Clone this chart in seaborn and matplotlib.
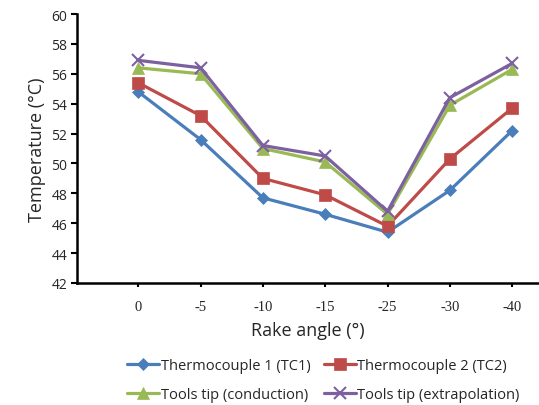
import matplotlib
matplotlib.use("Agg")
import matplotlib.pyplot as plt
import seaborn as sns
import pandas as pd

angles = ["0", "-5", "-10", "-15", "-25", "-30", "-40"]
tc1 = [54.8, 51.6, 47.7, 46.6, 45.4, 48.2, 52.2]
tc2 = [55.4, 53.2, 49.0, 47.9, 45.8, 50.3, 53.7]
tip_cond = [56.4, 56.0, 51.0, 50.1, 46.6, 53.9, 56.3]
tip_extr = [56.9, 56.4, 51.2, 50.5, 46.8, 54.4, 56.7]
names = ["Thermocouple 1 (TC1)", "Thermocouple 2 (TC2)",
         "Tools tip (conduction)", "Tools tip (extrapolation)"]
series = [tc1, tc2, tip_cond, tip_extr]
colors = ["#4A7EBB", "#BE4B48", "#98B954", "#7D60A0"]
markers = ["D", "s", "^", "x"]
msizes = [6, 8, 8, 8]

sns.set_style("white")
fig = plt.figure(figsize=(5.39, 4.06), dpi=100)
ax = fig.add_axes([0.143, 0.3005, 0.857, 0.6625])

rows = []
for n, vals in zip(names, series):
    for a, v in zip(angles, vals):
        rows.append({"angle": a, "temp": v, "series": n})
df = pd.DataFrame(rows)

for n, c, m, ms in zip(names, colors, markers, msizes):
    sub = df[df["series"] == n]
    sns.lineplot(data=sub, x="angle", y="temp", ax=ax, color=c, marker=m,
                 markersize=ms, linewidth=2.3, markeredgecolor=c,
                 markeredgewidth=1.5 if m == "x" else 0.5, label=n, sort=False)

ax.set_ylim(42, 60)
ax.set_yticks(range(42, 61, 2))
ax.set_xlim(-0.98, 6.43)
ax.set_xticks(range(len(angles)))
ax.set_xticklabels(angles, family="Liberation Serif", fontsize=10.5)
for t in ax.get_yticklabels():
    t.set_fontsize(10)
    t.set_family("Open Sans")
for s in ["top", "right"]:
    ax.spines[s].set_visible(False)
for s in ["left", "bottom"]:
    ax.spines[s].set_color("black")
    ax.spines[s].set_linewidth(1.8)
ax.tick_params(axis="y", direction="out", length=4, width=1.5, color="black", left=True, pad=3)
ax.tick_params(axis="x", direction="out", length=3, width=1.5, color="black", bottom=True, pad=9)
ax.set_xlabel("Rake angle (°)", family="Open Sans", fontsize=13, labelpad=6)
ax.set_ylabel("Temperature (°C)", family="Open Sans", fontsize=13, labelpad=4)
ax.legend().remove()
handles, labels = ax.get_legend_handles_labels()
order = [0, 2, 1, 3]
fig.legend([handles[i] for i in order], [labels[i] for i in order],
           loc="lower center", bbox_to_anchor=(0.6, -0.025), ncol=2,
           frameon=False, prop={"family": "Open Sans", "size": 10.5},
           handlelength=2.2, handletextpad=0.1, columnspacing=0.9, labelspacing=0.95)
fig.savefig("out.png", dpi=100)
